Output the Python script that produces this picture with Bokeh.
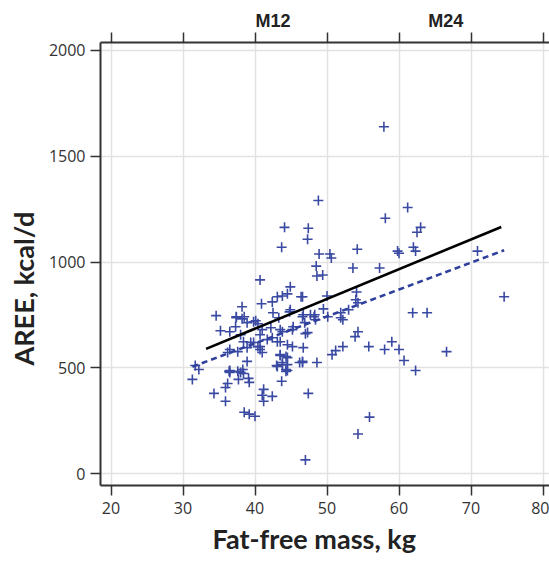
import numpy as np
from bokeh.plotting import figure
from bokeh.models import Range1d, LinearAxis, FixedTicker, Title
from bokeh.embed import file_html
from bokeh.resources import INLINE

# Fat-free mass (kg) and AREE (kcal/d)
ffm = [57.9, 48.8, 44.1, 47.4, 47.3, 43.7, 61.2, 58.1, 63.0, 62.5,
       48.9, 50.4, 50.6, 54.2, 59.8, 60.0, 62.0, 62.3, 48.5, 48.6,
       49.4, 40.7, 53.6, 57.3, 70.9, 54.1, 74.6, 46.6, 50.0, 54.0,
       54.3, 53.0, 52.2, 61.9, 63.9, 46.7, 48.3, 48.4, 49.5, 54.3,
       53.9, 47.0, 52.2, 55.8, 58.0, 59.0, 60.0, 60.7, 62.3, 66.6,
       50.7, 51.2, 46.6, 48.6, 47.4, 55.9, 54.3, 47.0,
       44.9, 46.4, 40.9, 42.4, 43.1, 43.8, 44.5, 38.2, 34.6, 37.4,
       38.2, 38.5, 39.8, 42.5, 43.3, 44.8, 46.6, 47.7, 35.2, 36.5,
       37.3, 38.9, 40.4, 38.4, 39.4, 40.4, 40.7, 42.4, 43.8, 45.2,
       45.3, 41.7, 43.1, 47.3, 46.9, 37.6, 36.5, 36.2, 38.9, 40.7,
       31.3, 32.2, 31.7, 36.5, 38.3, 38.4, 37.7, 38.9, 39.1, 36.2,
       35.9, 34.3, 35.9, 41.2, 41.0, 41.2, 42.4, 43.0, 43.8, 44.3,
       44.5, 43.5, 44.5, 43.7, 46.2, 46.6, 38.5, 39.2, 40.0, 44.9,
       48.2, 50.1, 51.9, 51.9, 41.0, 42.2, 43.5, 43.5, 44.5, 45.2,
       40.7, 41.0, 43.5, 44.3, 43.8, 44.5, 43.1, 44.3, 46.7, 37.4,
       40.1, 38.0, 39.8, 36.4, 37.6, 36.5, 38.0, 39.2]
aree = [1639, 1291, 1164, 1160, 1108, 1070, 1258, 1207, 1164, 1141,
        1038, 1038, 1019, 1061, 1052, 1042, 1070, 1052, 981, 934,
        939, 916, 972, 972, 1052, 859, 836, 836, 840, 822,
        808, 775, 728, 761, 761, 751, 751, 728, 779, 671,
        648, 662, 601, 601, 587, 624, 587, 535, 488, 577,
        563, 582, 526, 526, 380, 268, 188, 66,
        883, 836, 803, 812, 836, 840, 850, 789, 747, 742,
        732, 742, 718, 761, 737, 765, 742, 751, 676, 671,
        695, 714, 709, 624, 620, 601, 657, 643, 671, 681,
        695, 634, 624, 667, 714, 577, 587, 573, 596, 587,
        446, 493, 512, 488, 493, 474, 446, 531, 451, 427,
        408, 380, 343, 399, 371, 343, 366, 512, 526, 493,
        488, 559, 549, 437, 526, 531, 291, 282, 272, 775,
        742, 742, 737, 761, 681, 690, 681, 624, 610, 601,
        601, 573, 563, 554, 516, 516, 507, 484, 596, 738,
        723, 657, 620, 484, 484, 479, 479, 432]

# Regression lines (end points)
fit_solid_x = [33.2, 74.2]
fit_solid_y = [590, 1166]
fit_dash_x = [31.3, 74.6]
fit_dash_y = [506, 1056]

x_ticks = [20, 30, 40, 50, 60, 70, 80]
y_ticks = [0, 500, 1000, 1500, 2000]
top_labels = ["M12", "M24"]
top_label_x = [42.5, 66.5]

BLUE = "#3a4aa2"
AX = "#333333"

p = figure(width=549, height=568, output_backend="svg", toolbar_location=None,
           x_range=Range1d(18.54, 80.9), y_range=Range1d(-55, 2037),
           min_border_left=100, min_border_right=0, min_border_top=42,
           min_border_bottom=83)
p.outline_line_color = None
p.background_fill_color = "white"
p.border_fill_color = "white"

for ax in (p.xaxis[0], p.yaxis[0]):
    ax.axis_line_color = AX
    ax.axis_line_width = 2
    ax.major_tick_line_color = AX
    ax.major_tick_line_width = 1.5
    ax.major_tick_out = 10
    ax.major_tick_in = 0
    ax.minor_tick_line_color = None
    ax.major_label_text_font = "Open Sans"
    ax.major_label_text_font_size = "16px"
    ax.major_label_text_color = "#333333"
p.xaxis[0].ticker = FixedTicker(ticks=x_ticks)
p.yaxis[0].ticker = FixedTicker(ticks=y_ticks)
p.xaxis[0].major_label_standoff = 6
p.yaxis[0].major_label_standoff = 5

# top axis with ticks only
top = LinearAxis(ticker=FixedTicker(ticks=x_ticks))
top.axis_line_color = AX
top.axis_line_width = 2
top.major_tick_line_color = AX
top.major_tick_line_width = 1.5
top.major_tick_out = 10
top.major_tick_in = 0
top.minor_tick_line_color = None
top.major_label_text_color = None
top.major_label_text_font_size = "1px"
top.major_label_standoff = 0
p.add_layout(top, "above")

# top labels M12 / M24
lab = LinearAxis(ticker=FixedTicker(ticks=top_label_x),
                 major_label_overrides={x: t for x, t in zip(top_label_x, top_labels)})
lab.axis_line_color = None
lab.major_tick_line_color = None
lab.minor_tick_line_color = None
lab.major_tick_out = 0
lab.major_tick_in = 0
lab.major_label_standoff = 2
lab.major_label_text_font = "Liberation Sans"
lab.major_label_text_font_style = "bold"
lab.major_label_text_font_size = "18px"
lab.major_label_text_color = "#222222"
p.add_layout(lab, "above")

p.xgrid.ticker = FixedTicker(ticks=x_ticks)
p.ygrid.ticker = FixedTicker(ticks=y_ticks)
for g in (p.xgrid[0], p.ygrid[0]):
    g.grid_line_color = "#e2e2e2"
    g.grid_line_width = 1.5

p.scatter(ffm, aree, marker="cross", size=10, line_color=BLUE, line_width=1.6)
p.line(fit_solid_x, fit_solid_y, line_color="black", line_width=2.6)
p.line(fit_dash_x, fit_dash_y, line_color="#2f3f9c", line_width=2.6, line_dash="6 4")

xt = Title(text="Fat-free mass, kg", align="left", offset=112, standoff=10,
           vertical_align="top",
           text_font="Lato", text_font_style="bold", text_font_size="27px",
           text_color="#222222")
p.add_layout(xt, "below")
yt = Title(text="AREE, kcal/d", align="left", offset=120, standoff=8,
           vertical_align="top",
           text_font="Lato", text_font_style="bold", text_font_size="27px",
           text_color="#222222")
p.add_layout(yt, "left")

open("out.html", "w").write(file_html(p, INLINE))
